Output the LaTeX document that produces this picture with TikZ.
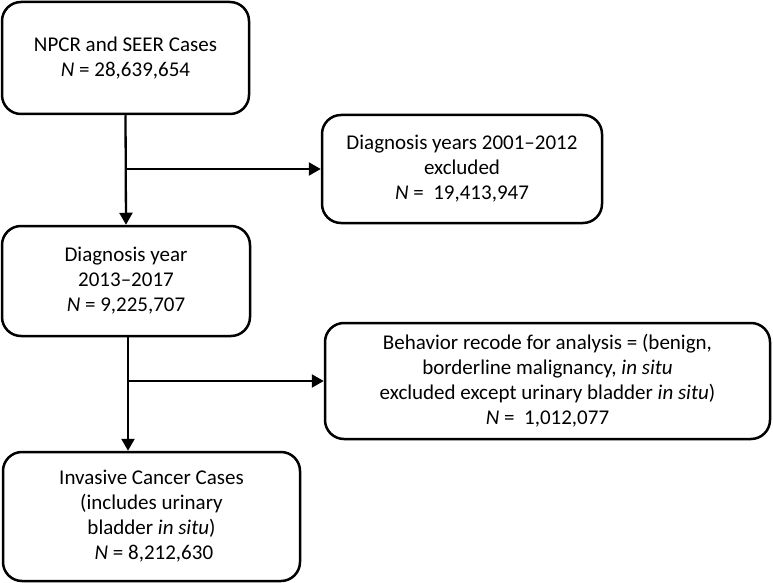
\documentclass[tikz,border=0pt]{standalone}
\usepackage{fontspec}
\setmainfont{Carlito}
\usetikzlibrary{arrows.meta}
\begin{document}
\begin{tikzpicture}[x=1pt,y=-1pt,
  box/.style={draw=black, line width=2.5pt, rounded corners=19pt, rectangle,
    align=center, inner sep=0pt, font=\fontsize{21}{25}\selectfont},
  arr/.style={line width=2.3pt, -{Triangle[length=12pt,width=13pt]}},
  link/.style={line width=2.3pt}]
\useasboundingbox (0,0) rectangle (773,583);
\node[box, minimum width=247pt, minimum height=112pt] (b1) at (125.5,58)
  {NPCR and SEER Cases\\\textit{N} = 28,639,654};
\node[box, minimum width=248pt, minimum height=110pt] (b2) at (126,281)
  {Diagnosis year\\2013–2017\\\textit{N} = 9,225,707};
\node[box, minimum width=280pt, minimum height=108pt] (b3) at (462,169)
  {Diagnosis years 2001–2012\\excluded\\\textit{N} =\ \ 19,413,947};
\node[box, minimum width=445pt, minimum height=116pt] (b4) at (547.5,381)
  {Behavior recode for analysis = (benign,\\borderline malignancy, \textit{in situ}\\excluded except urinary bladder \textit{in situ})\\\textit{N} =\ \ 1,012,077};
\node[box, minimum width=297pt, minimum height=129pt] (b5) at (151.5,516.5)
  {Invasive Cancer Cases\\(includes urinary\\bladder \textit{in situ})\\\ \textit{N} = 8,212,630};
\draw[arr] (b1.south) -- (b2.north);
\coordinate (j1) at (b1.south |- b3.west);
\draw[arr] (j1) -- (b3.west);
\coordinate (e2) at ([xshift=2pt]b2.south |- b5.north);
\draw[arr] ([xshift=2pt]b2.south) -- (e2);
\coordinate (j2) at ([xshift=2pt]b2.south |- b4.west);
\draw[arr] (j2) -- (b4.west);
\end{tikzpicture}
\end{document}
